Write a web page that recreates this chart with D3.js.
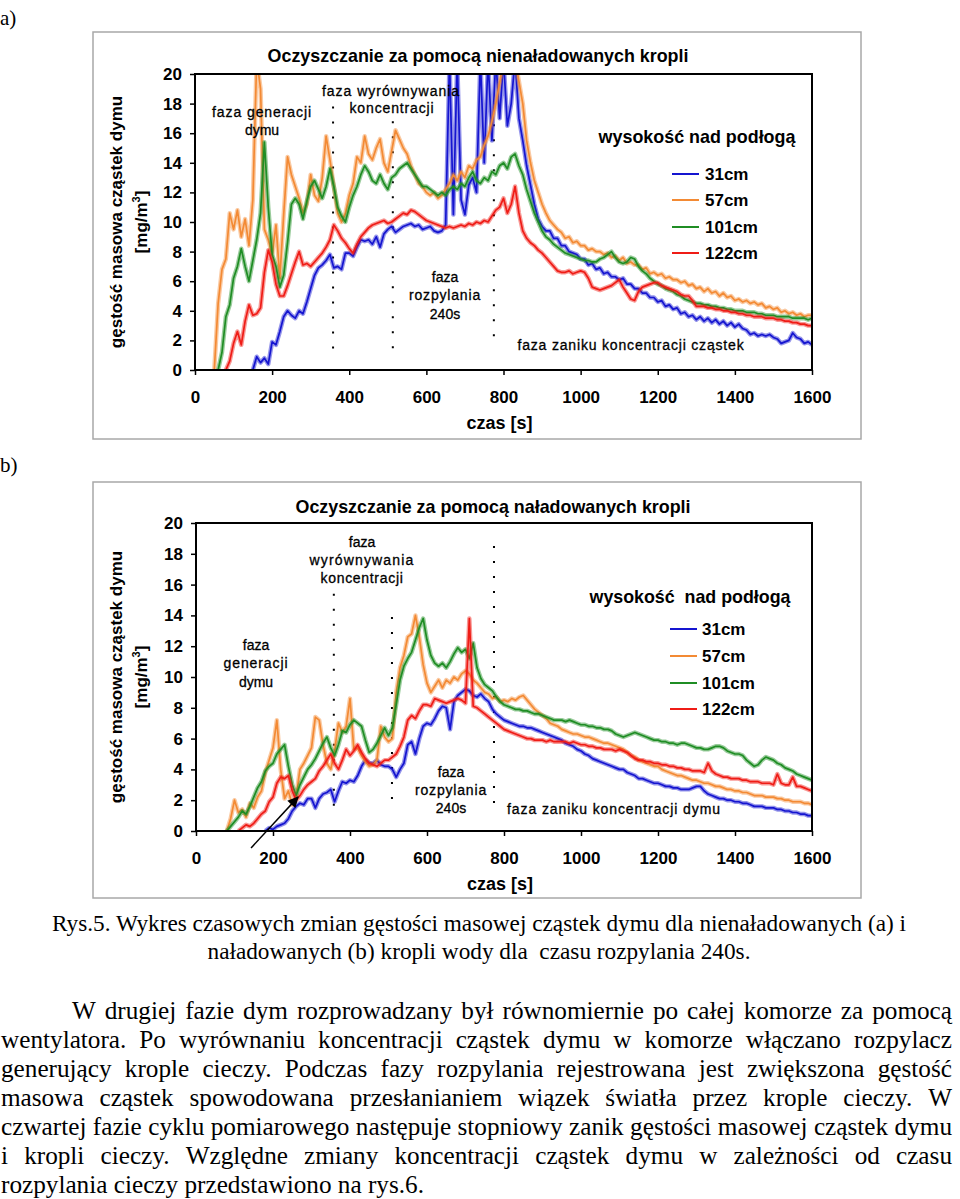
<!DOCTYPE html>
<html>
<head>
<meta charset="utf-8">
<script src="https://cdn.jsdelivr.net/npm/d3@7"></script>
<style>
  body { margin: 0; background: #fff; }
</style>
</head>
<body>
<svg id="page" width="960" height="1199"></svg>
<script>
const STEP = 10; // seconds between samples

const seriesLabels = ["31cm", "57cm", "101cm", "122cm"];
const seriesColors = ["#1515d0", "#f38a34", "#1f8d24", "#ef1c16"];
const xTicks = [0, 200, 400, 600, 800, 1000, 1200, 1400, 1600];
const yTicks = [0, 2, 4, 6, 8, 10, 12, 14, 16, 18, 20];

// a) uncharged droplets, first sample time of each series [s]
const a31Start = 150, a57Start = 50, a101Start = 60, a122Start = 80;
const a31 = [0,0.9,0.5,0.8,0.4,1.9,1.7,2.6,3.6,4.0,
  3.7,3.5,4.0,3.8,4.6,5.5,6.4,6.9,7.1,7.4,
  7.8,6.9,7.0,6.8,7.9,7.9,7.7,8.3,8.8,8.7,
  8.8,8.5,9.0,8.3,9.2,9.5,9.7,9.3,9.5,9.7,
  9.8,9.9,9.7,9.8,9.5,9.6,9.7,9.4,9.3,9.4,
  9.8,21,10.5,21,11.5,10.5,12.5,13,12,21,
  14,21,15.5,21,17,21,16.5,18,21,17,
  15.5,13.8,12.5,11.2,10.2,9.7,9.4,9.4,8.9,8.9,
  8.4,8.4,8.0,7.9,7.8,7.5,7.5,7.1,7.2,6.8,
  6.9,6.5,6.6,6.3,6.3,6.1,6.2,5.8,5.8,5.5,
  5.5,5.2,5.2,4.9,4.9,4.6,4.7,4.3,4.4,4.1,
  4.2,3.8,3.9,3.6,3.7,3.4,3.6,3.3,3.5,3.2,
  3.4,3.1,3.3,3.0,3.2,2.9,3.1,2.8,2.7,2.4,
  2.5,2.3,2.4,2.3,2.4,2.2,2.1,1.8,1.9,2.0,
  2.5,2.2,2.1,1.8,1.9,1.7];
const a57 = [0,4.5,6.8,7.5,10.6,9.5,10.8,9.0,10.2,8.4,
  11.5,21,19,9.5,8.8,7.8,9.8,6.2,10.5,14.4,
  13.2,12.4,11.6,10.6,11.2,13.2,11.8,11.4,13.0,15.8,
  14.2,12.4,10.6,10.0,10.6,11.8,12.6,14.4,14.0,15.8,
  14.6,14.2,15.0,15.6,14.0,13.4,14.8,16.2,15.6,15.0,
  14.6,13.8,13.2,12.6,12.4,12.0,11.8,12.0,11.6,11.8,
  12.2,12.6,13.2,12.8,13.4,13.0,13.8,13.6,14.2,14.4,
  15.2,15.8,16.8,18.0,19.4,21,21,21,21,19.5,
  18.0,15.5,14.0,12.8,12.0,11.2,10.6,10.1,9.8,9.5,
  9.3,8.9,9.0,8.6,8.7,8.4,8.4,8.1,8.2,8.0,
  8.0,7.8,7.9,7.6,7.7,7.4,7.6,7.2,7.3,7.1,
  7.1,6.8,6.9,6.5,6.6,6.4,6.5,6.2,6.3,6.1,
  6.1,5.9,6.0,5.7,5.8,5.5,5.6,5.3,5.5,5.2,
  5.3,5.0,5.2,4.9,5.0,4.7,4.8,4.6,4.7,4.5,
  4.6,4.4,4.5,4.2,4.3,4.1,4.2,3.9,4.0,3.8,
  3.9,3.7,3.8,3.6,3.7,3.7];
const a101 = [0,1.2,3.6,4.4,6.2,7.0,8.2,7.0,6.0,7.4,
  8.8,10.6,15.4,11.0,7.8,7.0,5.6,6.4,8.6,11.2,
  11.6,11.2,10.2,11.4,12.4,12.8,12.2,11.6,12.4,13.6,
  12.4,11.0,10.4,10.0,11.0,11.8,12.4,13.2,13.8,13.4,
  12.8,12.6,13.2,12.6,12.2,13.0,13.2,13.6,13.8,14.0,
  13.6,13.2,12.8,12.4,12.4,12.2,12.0,11.8,12.0,11.8,
  12.2,12.4,12.2,12.6,12.4,13.0,13.4,12.8,12.6,13.0,
  12.8,13.4,13.2,13.8,14.0,13.6,14.4,14.6,13.8,13.2,
  12.2,11.4,10.6,10.0,9.4,9.0,8.8,8.5,8.3,8.1,
  7.9,7.8,7.7,7.6,7.5,7.4,7.4,7.3,7.3,7.5,
  7.6,7.8,8.0,7.6,7.3,7.2,7.3,7.6,7.5,7.0,
  6.7,6.5,6.2,6.0,5.8,5.7,5.5,5.4,5.3,5.1,
  5.0,4.8,4.7,4.6,4.5,4.5,4.4,4.4,4.3,4.3,
  4.2,4.2,4.1,4.1,4.0,4.0,4.0,3.9,3.9,3.9,
  3.8,3.8,3.7,3.7,3.7,3.6,3.6,3.6,3.6,3.5,
  3.5,3.5,3.5,3.4,3.5];
const a122 = [0,0.6,1.8,2.6,1.7,3.3,4.4,3.7,3.8,4.2,
  6.6,8.1,7.3,5.8,5.0,5.0,5.7,6.5,7.3,8.0,
  7.1,7.2,7.0,7.3,7.6,7.9,8.3,8.8,9.8,9.4,
  8.9,8.6,8.2,7.9,8.5,9.0,9.3,9.6,9.8,9.9,
  10.0,10.1,9.9,10.0,10.2,10.4,10.6,10.5,10.8,10.7,
  10.5,10.3,10.1,10.0,9.9,9.8,9.7,9.6,9.7,9.6,
  9.7,9.8,9.7,9.9,9.8,10.0,9.9,10.1,10.0,10.4,
  10.8,11.0,11.6,10.6,11.2,12.4,10.6,9.4,8.9,8.6,
  8.4,8.1,7.9,7.6,7.3,7.0,6.7,6.6,6.6,6.7,
  6.5,6.6,6.7,6.6,6.2,5.6,5.5,5.4,5.5,5.6,
  5.7,5.9,6.1,5.6,5.2,4.8,4.7,5.3,5.6,5.7,
  5.8,5.9,5.9,5.7,5.6,5.5,5.4,5.3,5.1,5.0,
  5.0,4.7,4.3,4.3,4.3,4.2,4.2,4.1,4.1,4.0,
  4.0,3.9,3.9,3.8,3.8,3.7,3.7,3.6,3.6,3.6,
  3.5,3.5,3.5,3.4,3.4,3.3,3.3,3.2,3.2,3.1,
  3.1,3.0,3.0];

// b) charged droplets
const b31Start = 180, b57Start = 80, b101Start = 80, b122Start = 110;
const b31 = [0,0.2,0.1,0.3,0.4,0.5,0.8,1.3,1.6,1.8,
  1.7,2.1,2.1,1.5,2.1,2.4,2.5,2.7,1.9,2.6,
  3.2,3.1,3.3,3.2,3.6,4.2,4.6,4.4,4.4,4.6,
  4.3,4.2,4.2,4.0,3.5,4.0,4.4,5.6,5.8,5.0,
  6.0,6.8,7.0,6.9,7.3,7.8,8.1,8.0,6.6,8.4,
  8.8,9.0,9.2,9.1,8.8,8.7,8.9,8.6,8.4,7.9,
  7.6,7.4,7.2,7.1,7.0,6.9,6.8,6.8,6.7,6.7,
  6.6,6.5,6.4,6.3,6.2,6.1,6.0,5.9,5.7,5.6,
  5.5,5.3,5.2,5.0,4.9,4.7,4.6,4.5,4.4,4.3,
  4.2,4.1,4.0,4.0,3.8,3.7,3.6,3.4,3.4,3.3,
  3.2,3.1,3.1,3.0,2.9,2.9,2.8,2.8,2.7,2.7,
  2.7,2.8,2.9,2.9,2.6,2.4,2.3,2.2,2.1,2.1,
  2.0,2.0,1.9,1.9,1.8,1.8,1.7,1.6,1.6,1.6,
  1.5,1.5,1.5,1.4,1.4,1.3,1.3,1.2,1.2,1.1,
  1.1,1.0,1.0];
const b57 = [0,0.8,2.0,1.2,1.4,0.9,1.8,1.5,2.2,2.6,
  3.8,4.6,5.4,7.2,4.0,2.1,2.6,1.7,2.2,4.0,
  4.4,4.9,5.4,7.4,7.2,5.6,4.4,4.0,5.2,7.0,
  6.4,6.8,8.6,5.3,5.4,4.9,4.5,4.2,4.3,4.6,
  6.8,6.1,5.8,6.0,9.0,10.6,11.4,12.6,12.8,14.0,
  12.6,10.8,9.6,9.0,9.4,9.8,9.3,9.8,9.6,10.0,
  9.8,10.2,10.4,10.2,9.8,9.6,9.3,9.0,8.9,8.6,
  8.7,8.4,8.5,8.4,8.6,8.5,8.7,8.8,8.5,8.2,
  7.9,7.7,7.5,7.3,7.0,6.9,6.8,6.6,6.5,6.4,
  6.3,6.3,6.2,6.1,6.1,6.0,5.9,5.8,5.7,5.7,
  5.6,5.5,5.4,5.3,5.1,4.9,4.8,4.6,4.5,4.4,
  4.3,4.2,4.2,4.0,3.9,3.8,3.7,3.6,3.6,3.5,
  3.4,3.3,3.3,3.2,3.1,3.1,3.0,2.9,2.9,2.8,
  2.7,2.7,2.6,2.6,2.5,2.5,2.4,2.3,2.3,2.3,
  2.2,2.2,2.2,2.1,2.1,2.0,2.0,1.9,1.9,1.9,
  1.8,1.8,1.7];
const b101 = [0,0.3,0.6,0.9,1.3,1.1,1.6,2.2,2.8,3.2,
  3.9,4.2,4.4,5.0,5.3,5.6,4.2,3.0,2.3,3.0,
  3.5,4.0,4.3,4.7,5.2,5.7,6.1,5.4,4.9,5.6,
  6.5,6.4,6.9,7.2,7.0,6.8,5.9,5.1,5.3,5.7,
  6.2,6.7,6.2,6.7,8.2,9.8,10.7,11.2,11.6,12.4,
  13.2,13.8,12.4,11.4,10.9,10.7,10.9,10.6,11.0,11.5,
  11.9,11.6,11.8,11.2,12.2,10.6,9.9,9.5,9.3,9.1,
  8.7,8.4,8.2,8.1,8.0,7.9,7.9,7.8,7.8,7.7,
  7.6,7.6,7.5,7.4,7.3,7.2,7.2,7.2,7.1,7.2,
  7.1,7.0,6.9,6.9,6.8,6.8,6.7,6.7,6.6,6.6,
  6.5,6.3,6.2,6.1,6.2,6.3,6.4,6.3,6.2,6.1,
  6.0,5.9,5.9,5.8,5.8,5.7,5.7,5.6,5.7,5.7,
  5.6,5.5,5.4,5.4,5.3,5.3,5.4,5.5,5.5,5.4,
  5.2,5.1,5.0,5.0,4.9,4.6,4.4,4.2,4.3,4.6,
  4.8,4.7,4.6,4.4,4.3,4.1,4.0,3.9,3.7,3.6,
  3.5,3.4,3.3];
const b122 = [0,0.2,0.4,0.3,0.5,0.8,1.1,1.3,1.9,2.2,
  3.1,3.5,3.4,3.6,2.6,2.0,2.3,2.7,3.0,3.2,
  3.4,3.9,4.2,4.6,5.0,4.4,4.0,4.6,5.3,4.9,
  5.2,5.6,5.1,4.7,4.4,4.3,4.2,4.4,4.6,4.6,
  4.8,5.0,5.5,6.1,7.2,7.5,7.3,7.8,8.2,8.2,
  8.1,8.6,8.5,8.4,8.3,8.4,8.5,8.6,8.5,8.3,
  13.8,8.1,8.0,7.8,7.6,7.4,7.2,7.0,6.8,6.6,
  6.5,6.4,6.3,6.2,6.1,6.0,6.0,5.9,5.9,5.9,
  5.8,5.9,5.8,5.8,5.8,5.8,5.7,5.8,5.7,5.6,
  5.6,5.5,5.5,5.4,5.4,5.3,5.3,5.3,5.2,5.3,
  5.2,5.1,4.9,4.7,4.6,4.6,4.5,4.5,4.4,4.4,
  4.3,4.3,4.2,4.2,4.1,4.1,4.0,4.0,3.9,3.9,
  3.9,3.8,4.4,3.9,3.7,3.6,3.5,3.5,3.4,3.4,
  3.4,3.3,3.3,3.2,3.2,3.2,3.1,3.1,3.1,3.0,
  3.7,3.1,3.0,3.0,3.5,2.9,2.9,2.8,2.7,2.6];

// phase boundaries (dotted lines) [s] and their vertical extent
const phasesA = [358, 513, 775];
const phaseTopA = [17.8, 16.8, 16.6];
const phaseBottomA = [0.9, 0.9, 1.5];
const phasesB = [358, 509, 774];
const phaseTopB = [15.4, 13.9, 18.5];
const phaseBottomB = [1.2, 1.5, 1.4];
const arrowB = [[143, -1.1], [265, 2.2]];

const captionLines = [
  "Rys.5. Wykres czasowych zmian gęstości masowej cząstek dymu dla nienaładowanych (a) i",
  "naładowanych (b) kropli wody dla  czasu rozpylania 240s."
];
const paragraphLines = [
  "W drugiej fazie dym rozprowadzany był równomiernie po całej komorze za pomocą",
  "wentylatora. Po wyrównaniu koncentracji cząstek dymu w komorze włączano rozpylacz",
  "generujący krople cieczy. Podczas fazy rozpylania rejestrowana jest zwiększona gęstość",
  "masowa cząstek spowodowana przesłanianiem wiązek światła przez krople cieczy. W",
  "czwartej fazie cyklu pomiarowego następuje stopniowy zanik gęstości masowej cząstek dymu",
  "i kropli cieczy. Względne zmiany koncentracji cząstek dymu w zależności od czasu",
  "rozpylania cieczy przedstawiono na rys.6."
];

const SANS = "Arial, 'Liberation Sans', sans-serif";
const SERIF = "'Times New Roman', 'Liberation Serif', serif";

const svg = d3.select("#page");
svg.append("rect").attr("width", 960).attr("height", 1199).attr("fill", "#fff");
const defs = svg.append("defs");
defs.append("marker")
  .attr("id", "arrowhead")
  .attr("viewBox", "0 0 10 10")
  .attr("refX", 9).attr("refY", 5)
  .attr("markerWidth", 13).attr("markerHeight", 11)
  .attr("markerUnits", "userSpaceOnUse")
  .attr("orient", "auto")
  .append("path").attr("d", "M0,0L10,5L0,10z").attr("fill", "#000");

// stretch letter spacing so a label covers the width seen in the figure
function spaceTo(t, w) {
  const n = t.text().length;
  const m = t.node().getComputedTextLength();
  t.attr("letter-spacing", ((w - m) / n).toFixed(2));
}
function sizeTo(t, w) {
  const fs = +t.attr("font-size");
  const m = t.node().getComputedTextLength();
  t.attr("font-size", (fs * w / m).toFixed(2));
}

function drawPanel(p) {
  const g = svg.append("g");
  g.append("rect")
    .attr("x", p.box[0]).attr("y", p.box[1])
    .attr("width", p.box[2] - p.box[0]).attr("height", p.box[3] - p.box[1])
    .attr("fill", "#fff").attr("stroke", "#a8a8a8").attr("stroke-width", 1.5);

  const x = d3.scaleLinear().domain([0, 1600]).range([p.left, p.right]);
  const y = d3.scaleLinear().domain([0, 20]).range([p.bottom, p.top]);

  defs.append("clipPath").attr("id", p.id)
    .append("rect")
    .attr("x", p.left).attr("y", p.top)
    .attr("width", p.right - p.left).attr("height", p.bottom - p.top);

  // phase separators
  p.phases.forEach((t, i) => {
    g.append("line")
      .attr("x1", x(t)).attr("x2", x(t))
      .attr("y1", y(p.phaseTop[i])).attr("y2", y(p.phaseBottom[i]))
      .attr("stroke", "#000").attr("stroke-width", 2)
      .attr("stroke-dasharray", "2 13");
  });

  const plot = g.append("g").attr("clip-path", `url(#${p.id})`);
  p.series.forEach((s, k) => {
    const line = d3.line()
      .x((d, i) => x(s.start + i * STEP))
      .y((d) => y(d));
    plot.append("path")
      .attr("d", line(s.values))
      .attr("fill", "none")
      .attr("stroke", seriesColors[k])
      .attr("stroke-opacity", 0.45)
      .attr("stroke-width", 4.4)
      .attr("stroke-linejoin", "round");
    plot.append("path")
      .attr("d", line(s.values))
      .attr("fill", "none")
      .attr("stroke", seriesColors[k])
      .attr("stroke-width", 1.7)
      .attr("stroke-linejoin", "round");
  });

  g.append("rect")
    .attr("x", p.left).attr("y", p.top)
    .attr("width", p.right - p.left).attr("height", p.bottom - p.top)
    .attr("fill", "none").attr("stroke", "#000").attr("stroke-width", 2);

  const xAxis = g.append("g")
    .attr("transform", `translate(0,${p.bottom})`)
    .call(d3.axisBottom(x).tickValues(xTicks).tickSize(5).tickPadding(16).tickFormat(d3.format("d")));
  const yAxis = g.append("g")
    .attr("transform", `translate(${p.left},0)`)
    .call(d3.axisLeft(y).tickValues(yTicks).tickSize(5).tickPadding(8));
  [xAxis, yAxis].forEach((a) => {
    a.select(".domain").remove();
    a.attr("font-family", SANS).attr("font-size", 17).attr("font-weight", "bold");
    a.selectAll("line").attr("stroke", "#000").attr("stroke-width", 1.5);
    a.selectAll("text").attr("fill", "#000");
  });

  g.append("text")
    .attr("x", (p.left + p.right) / 2 - 4).attr("y", p.bottom + 59)
    .attr("text-anchor", "middle")
    .attr("font-family", SANS).attr("font-size", 18).attr("font-weight", "bold")
    .text("czas [s]");

  const cy = (p.top + p.bottom) / 2;
  g.append("text")
    .attr("transform", `translate(122,${cy}) rotate(-90)`)
    .attr("text-anchor", "middle")
    .attr("font-family", SANS).attr("font-size", 17).attr("font-weight", "bold")
    .text("gęstość masowa cząstek dymu");
  const unit = g.append("text")
    .attr("transform", `translate(147,${cy}) rotate(-90)`)
    .attr("text-anchor", "middle")
    .attr("font-family", SANS).attr("font-size", 17).attr("font-weight", "bold");
  unit.append("tspan").text("[mg/m");
  unit.append("tspan").attr("font-size", 11).attr("dy", -7).text("3");
  unit.append("tspan").attr("dy", 7).text("]");

  const title = g.append("text")
    .attr("x", p.titleX).attr("y", p.titleY)
    .attr("text-anchor", "middle")
    .attr("font-family", SANS).attr("font-size", 17).attr("font-weight", "bold")
    .text(p.title);
  sizeTo(title, p.titleW);

  const lg = p.legend;
  const lt = g.append("text")
    .attr("x", lg.titleX).attr("y", lg.titleY)
    .attr("text-anchor", "middle")
    .attr("font-family", SANS).attr("font-size", 18).attr("font-weight", "bold")
    .style("white-space", "pre")
    .text(lg.title);
  sizeTo(lt, lg.titleW);
  seriesLabels.forEach((lab, k) => {
    const yy = lg.rows[k];
    g.append("line")
      .attr("x1", lg.lineX0).attr("x2", lg.lineX1)
      .attr("y1", yy).attr("y2", yy)
      .attr("stroke", seriesColors[k]).attr("stroke-width", 2);
    g.append("text")
      .attr("x", lg.textX).attr("y", yy + 6)
      .attr("font-family", SANS).attr("font-size", 17).attr("font-weight", "bold")
      .text(lab);
  });

  p.notes.forEach((n) => {
    const t = g.append("text")
      .attr("x", n.x).attr("y", n.y)
      .attr("text-anchor", "middle")
      .attr("font-family", SANS).attr("font-size", 14)
      .attr("stroke", "#000").attr("stroke-width", 0.3)
      .text(n.text);
    if (n.w) spaceTo(t, n.w);
  });

  if (p.arrow) {
    g.append("line")
      .attr("x1", x(p.arrow[0][0])).attr("y1", y(p.arrow[0][1]))
      .attr("x2", x(p.arrow[1][0])).attr("y2", y(p.arrow[1][1]))
      .attr("stroke", "#000").attr("stroke-width", 1.5)
      .attr("marker-end", "url(#arrowhead)");
  }
}

drawPanel({
  id: "clipA",
  box: [93, 32, 861, 439],
  left: 195, right: 812, top: 74, bottom: 370,
  title: "Oczyszczanie za pomocą nienaładowanych kropli",
  titleX: 478, titleY: 62, titleW: 421,
  series: [
    { start: a31Start, values: a31 },
    { start: a57Start, values: a57 },
    { start: a101Start, values: a101 },
    { start: a122Start, values: a122 }
  ],
  phases: phasesA, phaseTop: phaseTopA, phaseBottom: phaseBottomA,
  legend: {
    title: "wysokość nad podłogą", titleX: 697, titleY: 143, titleW: 197,
    lineX0: 672, lineX1: 699, textX: 705, rows: [174, 200, 227, 253]
  },
  notes: [
    { text: "faza generacji", x: 262, y: 117, w: 100 },
    { text: "dymu", x: 262, y: 135 },
    { text: "faza wyrównywania", x: 391, y: 96, w: 138 },
    { text: "koncentracji", x: 392, y: 113, w: 85 },
    { text: "faza", x: 445, y: 282 },
    { text: "rozpylania", x: 445, y: 300, w: 72 },
    { text: "240s", x: 445, y: 319 },
    { text: "faza zaniku koncentracji cząstek", x: 631, y: 350, w: 227 }
  ]
});

drawPanel({
  id: "clipB",
  box: [93, 482, 861, 898],
  left: 196, right: 812, top: 523, bottom: 831,
  title: "Oczyszczanie za pomocą naładowanych kropli",
  titleX: 493, titleY: 513, titleW: 395,
  series: [
    { start: b31Start, values: b31 },
    { start: b57Start, values: b57 },
    { start: b101Start, values: b101 },
    { start: b122Start, values: b122 }
  ],
  phases: phasesB, phaseTop: phaseTopB, phaseBottom: phaseBottomB,
  legend: {
    title: "wysokość  nad podłogą", titleX: 690, titleY: 603, titleW: 201,
    lineX0: 670, lineX1: 697, textX: 702, rows: [629, 656, 683, 709]
  },
  notes: [
    { text: "faza", x: 362, y: 547 },
    { text: "wyrównywania", x: 362, y: 565, w: 105 },
    { text: "koncentracji", x: 362, y: 583, w: 83 },
    { text: "faza", x: 256, y: 650 },
    { text: "generacji", x: 256, y: 668, w: 65 },
    { text: "dymu", x: 256, y: 687 },
    { text: "faza", x: 451, y: 777 },
    { text: "rozpylania", x: 451, y: 795, w: 72 },
    { text: "240s", x: 451, y: 813 },
    { text: "faza zaniku koncentracji dymu", x: 614, y: 814, w: 214 }
  ],
  arrow: arrowB
});

// panel letters
svg.append("text").attr("x", 0).attr("y", 25)
  .attr("font-family", SERIF).attr("font-size", 21).text("a)");
svg.append("text").attr("x", 0).attr("y", 472)
  .attr("font-family", SERIF).attr("font-size", 21).text("b)");

// caption, centred
const cap = svg.append("g").attr("font-family", SERIF);
const cap1 = cap.append("text")
  .attr("x", 479).attr("y", 931).attr("text-anchor", "middle")
  .attr("font-size", 21).style("white-space", "pre")
  .text(captionLines[0]);
sizeTo(cap1, 854);
cap.append("text")
  .attr("x", 479).attr("y", 959).attr("text-anchor", "middle")
  .attr("font-size", cap1.attr("font-size")).style("white-space", "pre")
  .text(captionLines[1]);

// justified paragraph
const para = svg.append("g").attr("font-family", SERIF);
const probe = para.append("text").attr("font-size", 21).text(paragraphLines[4]);
const paraSize = 21 * 950 / probe.node().getComputedTextLength();
probe.remove();
para.attr("font-size", paraSize);
const paraRight = 952;
const paraBase = [1019, 1048, 1077, 1106, 1135, 1164, 1193];
paragraphLines.forEach((ln, i) => {
  const x0 = i === 0 ? 72 : 1;
  if (i === paragraphLines.length - 1) {
    para.append("text").attr("x", x0).attr("y", paraBase[i]).text(ln);
    return;
  }
  const words = ln.split(" ");
  const tmp = para.append("text");
  const widths = words.map((w) => { tmp.text(w); return tmp.node().getComputedTextLength(); });
  tmp.remove();
  const gap = (paraRight - x0 - d3.sum(widths)) / (words.length - 1);
  let xx = x0;
  words.forEach((w, j) => {
    para.append("text").attr("x", xx).attr("y", paraBase[i]).text(w);
    xx += widths[j] + gap;
  });
});
</script>
</body>
</html>
